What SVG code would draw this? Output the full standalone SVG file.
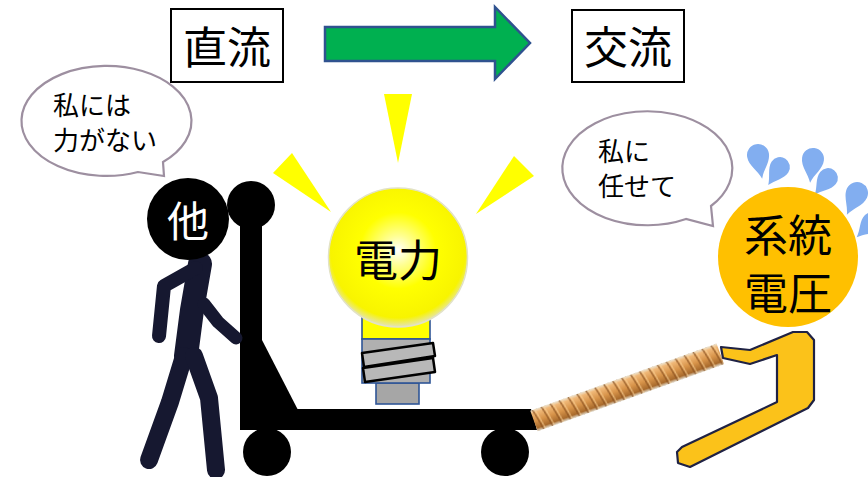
<svg xmlns="http://www.w3.org/2000/svg" width="868" height="477" viewBox="0 0 868 477">
  <style>
    .jp { font-family: "Noto Sans CJK JP", "Noto Sans CJK SC", sans-serif; }
    .box { fill: #ffffff; stroke: #000000; stroke-width: 2; }
    .boxtext { font-size: 44px; fill: #000000; text-anchor: middle; }
    .bubble { fill: #ffffff; stroke: #9d8fa0; stroke-width: 2.2; stroke-linejoin: miter; }
    .bubbletext { font-size: 26px; fill: #000000; }
    .ray { fill: #ffff00; }
    .cart { fill: #000000; }
    .limb { fill: none; stroke: #161830; stroke-linecap: round; stroke-linejoin: round; }
    .drop { fill: #82aef0; }
    .socket { stroke: #2f5597; stroke-width: 1.6; }
    .thread { fill: #b8b8b8; stroke: #000000; stroke-width: 2.5; stroke-linejoin: round; }
    .bigtext { font-size: 44px; fill: #000000; text-anchor: middle; }
  </style>
  <defs>
    <radialGradient id="bulbGlow" cx="0.5" cy="0.45" r="0.55">
      <stop offset="0" stop-color="#ffffff"/>
      <stop offset="0.2" stop-color="#ffff90"/>
      <stop offset="0.5" stop-color="#ffff00"/>
      <stop offset="0.88" stop-color="#f8f400"/>
      <stop offset="1" stop-color="#e4e4b8"/>
    </radialGradient>
    <linearGradient id="copper" x1="0" y1="0" x2="0" y2="1">
      <stop offset="0" stop-color="#ece6d6"/>
      <stop offset="0.15" stop-color="#f0b878"/>
      <stop offset="0.5" stop-color="#d8944a"/>
      <stop offset="0.85" stop-color="#a86a2c"/>
      <stop offset="1" stop-color="#e4e0d4"/>
    </linearGradient>
    <pattern id="twist" x="0" y="-11" width="9.5" height="22" patternUnits="userSpaceOnUse">
      <path d="M2,0 C4,6 5,14 6.5,22" fill="none" stroke="#8a5220" stroke-width="1.6" opacity="0.7"/>
      <path d="M4.5,0 C6,6 7,14 8.5,22" fill="none" stroke="#fbd39a" stroke-width="1.3" opacity="0.6"/>
    </pattern>
    <!-- sweat drop: round head at origin, tail pointing to (0,-24) -->
    <path id="tear" d="M0,-24 C3,-15 11,-9 11,0 A11,11 0 0,1 -11,0 C-11,-9 -3,-15 0,-24 Z"/>
  </defs>

  <!-- direct current label -->
  <g id="dc">
    <rect class="box" x="171" y="9" width="112" height="73"/>
    <text class="jp boxtext" x="227" y="64">直流</text>
  </g>

  <!-- transition arrow -->
  <g id="arrow">
    <polygon points="325,27 495,27 495,7 530,43 495,79 495,61 325,61" fill="#00b050" stroke="#2f528f" stroke-width="2.5" stroke-linejoin="miter"/>
  </g>

  <!-- alternating current label -->
  <g id="ac">
    <rect class="box" x="572" y="10" width="112" height="72"/>
    <text class="jp boxtext" x="628" y="64">交流</text>
  </g>

  <!-- speech bubble: other source -->
  <g id="bubble-left">
    <path class="bubble" d="M164,176 L163,162 A85,55 0 1,0 138,172 Z"/>
    <text class="jp bubbletext" x="53" y="115">私には</text>
    <text class="jp bubbletext" x="53" y="150">力がない</text>
  </g>

  <!-- speech bubble: grid voltage -->
  <g id="bubble-right">
    <path class="bubble" d="M713,226 L711,206 A85,57 0 1,0 686,219 Z"/>
    <text class="jp bubbletext" x="598" y="161">私に</text>
    <text class="jp bubbletext" x="598" y="196">任せて</text>
  </g>

  <!-- light rays -->
  <g id="rays">
    <polygon class="ray" points="384,94 412,94 398,163"/>
    <polygon class="ray" points="273,173 292,153 331,212"/>
    <polygon class="ray" points="514,156 534,176 476,214"/>
  </g>

  <!-- hand cart -->
  <g id="cart">
    <rect class="cart" x="240" y="205" width="22" height="225"/>
    <circle class="cart" cx="251" cy="205" r="24"/>
    <polygon class="cart" points="262,340 262,410 298,410"/>
    <polygon class="cart" points="240,409 531,409 537,430 240,430"/>
    <circle class="cart" cx="267" cy="452" r="24"/>
    <circle class="cart" cx="505" cy="452" r="24"/>
  </g>

  <!-- other power source: stick figure -->
  <g id="other">
    <polyline class="limb" stroke-width="24" points="200,264 192,310 186,356"/>
    <polyline class="limb" stroke-width="14" points="196,268 164,286 159,336"/>
    <polyline class="limb" stroke-width="13" points="204,304 218,322 236,338"/>
    <polyline class="limb" stroke-width="18" points="184,356 170,402 149,460"/>
    <polyline class="limb" stroke-width="18" points="194,356 209,398 216,470"/>
    <circle cx="188" cy="219" r="41" fill="#000000"/>
    <text class="jp" x="188" y="237" font-size="42" fill="#ffffff" text-anchor="middle">他</text>
  </g>

  <!-- light bulb: power -->
  <g id="power">
    <rect x="362" y="312" width="68" height="27" fill="#ffff00" class="socket"/>
    <rect x="376" y="383" width="43" height="21" fill="#a6a6a6" class="socket"/>
    <rect x="362" y="339" width="68" height="44" fill="#b0b0b0" class="socket"/>
    <polygon class="thread" points="362,353 433,343 435,356 364,367"/>
    <polygon class="thread" points="363,368 433,358 435,372 365,382"/>
    <circle cx="398" cy="257.5" r="69.5" fill="url(#bulbGlow)" stroke="#e2e2c6" stroke-width="1.5"/>
    <text class="jp bigtext" x="398" y="277">電力</text>
  </g>

  <!-- cable and plug -->
  <g id="cable">
    <g transform="translate(534,421) rotate(-19.8)">
      <rect x="0" y="-11" width="198" height="22" fill="url(#copper)"/>
      <rect x="0" y="-11" width="198" height="22" fill="url(#twist)"/>
    </g>
    <path d="M721,347 L750,350 L793,332 L807,332 L814,340 L814,400 L808,408 L690,467 L678,463 L677,452 L682,447 L777,402 L777,355 L750,364 L723,358 Z" fill="#fbc21a" stroke="#1f2244" stroke-width="2.2" stroke-linejoin="round"/>
  </g>

  <!-- grid voltage -->
  <g id="grid">
    <use href="#tear" class="drop" transform="translate(758,155) rotate(170)"/>
    <use href="#tear" class="drop" transform="translate(780,167) rotate(213) scale(0.9)"/>
    <use href="#tear" class="drop" transform="translate(813,159) rotate(187)"/>
    <use href="#tear" class="drop" transform="translate(828,178) rotate(218) scale(0.9)"/>
    <use href="#tear" class="drop" transform="translate(857,193) rotate(205)"/>
    <use href="#tear" class="drop" transform="translate(872,222) rotate(225) scale(0.9)"/>
    <circle cx="788" cy="257" r="70" fill="#ffc000"/>
    <text class="jp bigtext" x="788" y="252">系統</text>
    <text class="jp bigtext" x="788" y="310">電圧</text>
  </g>
</svg>
